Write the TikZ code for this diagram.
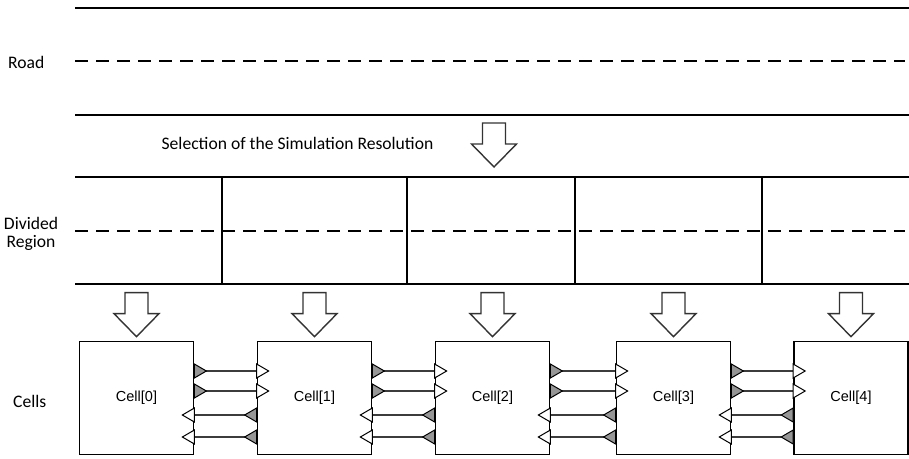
\documentclass[tikz,border=0pt]{standalone}
\usepackage{fontspec}
\setmainfont{Carlito}
\newfontfamily\cellfont{Liberation Sans}
\usepackage{tikz}
\usetikzlibrary{positioning,calc}
\definecolor{portgray}{RGB}{150,150,150}
\definecolor{linkgray}{RGB}{60,60,60}

\tikzset{
  downarrow/.pic={
    \draw[line width=1.4pt,black!80,fill=white]
      (-11.5,0) -- (11.5,0) -- (11.5,21) -- (22.5,21) -- (0,44)
      -- (-22.5,21) -- (-11.5,21) -- cycle;
  },
}

\begin{document}
\begin{tikzpicture}[
  x=1pt,y=-1pt,
  font=\fontsize{17.6}{20}\selectfont,
  lane/.style={line width=1.9pt},
  mid/.style={line width=1.9pt,dash pattern=on 13pt off 8pt},
  cell/.style={draw,line width=1.7pt,minimum width=114pt,minimum height=113pt,
               inner sep=0pt,font=\cellfont\fontsize{14.5}{17}\selectfont},
  outtri/.style={draw=black,line width=1pt,fill=portgray},
  intri/.style={draw=black,line width=1pt,fill=white},
  link/.style={line width=1.7pt,linkgray},
  lbl/.style={inner sep=0pt,align=center},
]
\useasboundingbox (0,0) rectangle (909,458);

% road
\coordinate (roadL) at (75,8);
\coordinate (roadR) at (909,8);
\draw[lane] (roadL) -- (roadR);
\draw[mid] (75,61) -- (905,61);
\draw[lane] (75,115) -- (909,115);
\node[lbl,anchor=west] (road) at (8,62) {Road};

% resolution step
\node[lbl] (sel) at (297.5,143) {Selection of the Simulation Resolution};
\pic at (494,123) {downarrow};

% divided region
\draw[lane] (75,177) -- (909,177);
\draw[mid] (75,231) -- (905,231);
\draw[lane] (75,284) -- (909,284);
\foreach \dx in {222,407,575,762}
  \draw[lane] (\dx,177) -- (\dx,284);
\node[lbl] (div) at (31,234) {Divided\\[-2pt]Region};

% cells
\node[lbl,anchor=west] (cells) at (13,401) {Cells};
\foreach \i/\cx in {0/136.5,1/314.5,2/492.5,3/673.5,4/851}{
  \node[cell] (c\i) at (\cx,398) {Cell[\i]};
  \pic at ($(c\i.north)+(0,-48)$) {downarrow};
}

% ports between neighbouring cells
\foreach \i [evaluate=\i as \j using int(\i+1)] in {0,...,3}{
  \foreach \dy in {-27,-7}{
    \draw[link] ($(c\i.east)+(12,\dy)$) -- ($(c\j.west)+(0,\dy)$);
    \draw[outtri] ($(c\i.east)+(0,\dy-7)$) -- ++(12,7) -- ++(-12,7) -- cycle;
    \draw[intri] ($(c\j.west)+(0,\dy-7)$) -- ++(12,7) -- ++(-12,7) -- cycle;
  }
  \foreach \dy in {17,39}{
    \draw[link] ($(c\j.west)+(-12,\dy)$) -- ($(c\i.east)+(0,\dy)$);
    \draw[outtri] ($(c\j.west)+(0,\dy-7)$) -- ++(-12,7) -- ++(12,7) -- cycle;
    \draw[intri] ($(c\i.east)+(0,\dy-7)$) -- ++(-12,7) -- ++(12,7) -- cycle;
  }
}
\end{tikzpicture}
\end{document}
